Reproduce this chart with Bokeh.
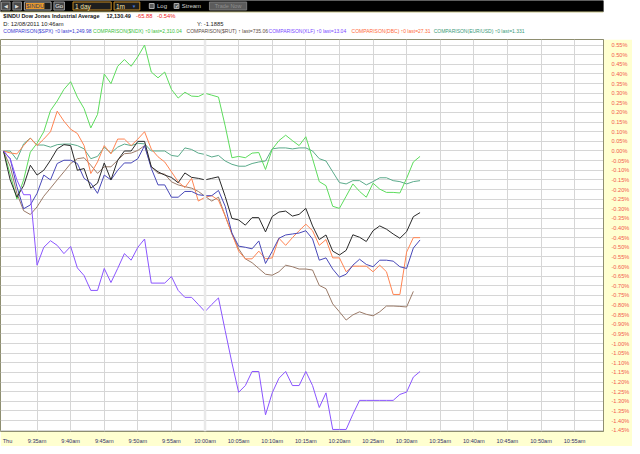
from bokeh.core.properties import value
from bokeh.embed import file_html
from bokeh.layouts import column
from bokeh.models import FixedTicker, PrintfTickFormatter, Range1d, Span
from bokeh.plotting import figure
from bokeh.resources import INLINE

FONT = value("Liberation Sans")

# minutes after 9:30am, one point per minute
minutes = list(range(63))

indu = [0, -0.15, -0.24, -0.18, -0.074, -0.125, -0.10, -0.048, 0.011, 0.033,
        0.028, -0.10, -0.091, -0.193, -0.167, -0.062, -0.15, -0.048, 0.0, 0.0,
        0.05, 0.05, -0.082, -0.108, -0.125, -0.137, -0.165, -0.114, -0.137, -0.142,
        -0.15, -0.142, -0.134, -0.236, -0.35, -0.358, -0.385, -0.346, -0.346, -0.42,
        -0.34, -0.317, -0.312, -0.338, -0.329, -0.298, -0.389, -0.46, -0.436, -0.52,
        -0.54, -0.516, -0.435, -0.448, -0.47, -0.414, -0.389, -0.406, -0.431, -0.453,
        -0.419, -0.341, -0.32]
spx = [0, -0.04, -0.185, -0.30, -0.28, -0.22, -0.125, -0.15, -0.065, -0.048,
       -0.048, -0.065, -0.142, -0.167, -0.22, -0.125, -0.15, -0.10, -0.062, -0.062,
       -0.04, 0.028, -0.09, -0.176, -0.176, -0.24, -0.24, -0.21, -0.21, -0.227,
       -0.232, -0.232, -0.205, -0.287, -0.426, -0.494, -0.50, -0.508, -0.467, -0.584,
       -0.521, -0.453, -0.436, -0.431, -0.426, -0.414, -0.457, -0.567, -0.555, -0.613,
       -0.655, -0.64, -0.593, -0.562, -0.589, -0.601, -0.567, -0.567, -0.572, -0.601,
       -0.61, -0.504, -0.462]
ndx = [0, -0.12, -0.25, -0.15, -0.006, 0.04, 0.10, 0.21, 0.26, 0.32,
       0.36, 0.28, 0.22, 0.12, 0.19, 0.40, 0.35, 0.44, 0.475, 0.44,
       0.49, 0.55, 0.41, 0.38, 0.41, 0.32, 0.275, 0.305, 0.285, 0.283,
       0.30, 0.29, 0.28, 0.13, -0.035, -0.028, -0.035, -0.011, -0.008, -0.096,
       0.009, 0.054, 0.082, 0.054, 0.028, 0.074, -0.04, -0.159, -0.18, -0.287,
       -0.298, -0.235, -0.171, -0.21, -0.24, -0.167, -0.198, -0.215, -0.215, -0.218,
       -0.142, -0.057, -0.028]
rut = [0, -0.08, -0.22, -0.31, -0.33, -0.29, -0.235, -0.193, -0.15, -0.108,
       -0.065, -0.04, -0.035, -0.074, -0.116, -0.082, -0.082, -0.048, -0.014, -0.011,
       0.003, 0.028, -0.082, -0.116, -0.12, -0.16, -0.176, -0.185, -0.193, -0.21,
       -0.235, -0.26, -0.24, -0.337, -0.43, -0.508, -0.56, -0.58, -0.61, -0.64,
       -0.645, -0.627, -0.593, -0.601, -0.613, -0.613, -0.618, -0.698, -0.715, -0.794,
       -0.835, -0.878, -0.851, -0.835, -0.848, -0.856, -0.835, -0.805, -0.805, -0.807,
       -0.81, -0.729]
xlf = [0, -0.04, -0.15, -0.227, -0.227, -0.593, -0.50, -0.466, -0.49, -0.533,
       -0.496, -0.607, -0.647, -0.724, -0.724, -0.61, -0.683, -0.61, -0.533, -0.567,
       -0.50, -0.457, -0.686, -0.686, -0.686, -0.652, -0.724, -0.76, -0.76, -0.797,
       -0.834, -0.797, -0.763, -0.933, -1.10, -1.253, -1.218, -1.145, -1.145, -1.37,
       -1.256, -1.18, -1.145, -1.218, -1.218, -1.145, -1.218, -1.332, -1.256, -1.446,
       -1.446, -1.446, -1.367, -1.295, -1.295, -1.295, -1.295, -1.295, -1.295, -1.264,
       -1.252, -1.174, -1.145]
dbc = [0, -0.01, -0.015, 0.028, 0.067, 0.028, 0.062, 0.10, 0.207, 0.155,
       0.113, 0.091, 0.028, -0.117, -0.057, 0.028, -0.015, 0.062, 0.062, 0.028,
       0.062, 0.10, 0.01, -0.03, -0.057, -0.108, -0.16, -0.19, -0.142, -0.26,
       -0.24, -0.232, -0.256, -0.337, -0.43, -0.52, -0.56, -0.56, -0.52, -0.56,
       -0.555, -0.453, -0.49, -0.45, -0.414, -0.38, -0.414, -0.49, -0.46, -0.555,
       -0.555, -0.627, -0.598, -0.598, -0.598, -0.627, -0.593, -0.627, -0.745, -0.745,
       -0.525, -0.45, -0.45]
eurusd = [0, 0, -0.045, 0.037, 0.067, 0.031, 0.031, 0.02, 0.033, 0.036,
          0.036, 0.028, 0.011, -0.04, -0.028, 0.02, -0.011, 0.02, 0.036, 0.028,
          0.04, 0.037, 0.0, 0.0, 0.0, -0.023, -0.028, 0.016, 0.008, -0.011,
          -0.018, -0.031, -0.023, -0.052, -0.069, -0.079, -0.079, -0.065, -0.057, -0.052,
          0.011, 0.016, 0.016, 0.011, 0.016, 0.016, 0.0, -0.04, -0.052, -0.108,
          -0.164, -0.171, -0.154, -0.154, -0.176, -0.159, -0.139, -0.139, -0.154, -0.159,
          -0.171, -0.159, -0.154]

time_ticks = [0.6, 5, 10, 15, 20, 25, 30, 35, 40, 45, 50, 55, 60, 65, 70, 75, 80, 85]
time_labels = ["Thu", "9:35am", "9:40am", "9:45am", "9:50am", "9:55am", "10:00am",
               "10:05am", "10:10am", "10:15am", "10:20am", "10:25am", "10:30am",
               "10:35am", "10:40am", "10:45am", "10:50am", "10:55am"]
pct_ticks = [round(i * 0.05, 2) for i in range(-29, 12)]

series = [
    (eurusd, "#5aaa8a"),
    (ndx, "#5ddc5d"),
    (rut, "#9a7a68"),
    (dbc, "#ff8452"),
    (spx, "#4848b8"),
    (indu, "#2a2a2a"),
    (xlf, "#8a55ff"),
]

study_labels = ["COMPARISON($SPX) ↑0 last=1,249.98", "COMPARISON($NDX) ↑0 last=2,310.04",
                "COMPARISON($RUT) ↑ last=735.06", "COMPARISON(XLF) ↑0 last=13.04",
                "COMPARISON(DBC) ↑0 last=27.31", "COMPARISON(EUR/USD) ↑0 last=1.331"]
study_colors = ["#3a3ad0", "#3cc03c", "#5a4a42", "#7a48ff", "#ff6a3a", "#3a9a7a"]

# ---- header strip (toolbar + study labels)
head = figure(width=632, height=39, x_range=Range1d(0, 632), y_range=Range1d(39, 0),
              min_border=0, toolbar_location=None, output_backend="svg",
              x_axis_type=None, y_axis_type=None, outline_line_color=None,
              background_fill_color="white", border_fill_color="white")
head.quad(left=0, right=632, top=0, bottom=11, color="black")
head.segment(x0=0, y0=11.5, x1=632, y1=11.5, line_color="#c8c48a", line_width=1)
head.quad(left=[1, 13], right=[10, 22], top=1.5, bottom=9.5,
          fill_color="#4a4a4a", line_color="#8a8a8a")
head.text(x=[5.5, 17.5], y=5.7, text=["◀", "▶"], text_font_size="5px",
          text_align="center", text_baseline="middle", text_color="#dddddd")
head.quad(left=25, right=53, top=1.5, bottom=9.5, fill_color="#1c1c1c", line_color="#aaaaaa")
head.quad(left=26.5, right=46, top=2.5, bottom=8.5, fill_color="#e89a2c", line_color=None)
head.text(x=27, y=5.7, text=["$INDU"], text_font=FONT, text_font_size="6px",
          text_baseline="middle", text_color="#3a3a5a")
head.quad(left=56, right=67, top=1.5, bottom=9.5, fill_color="#444444", line_color="#999999")
head.text(x=61.5, y=5.7, text=["Go"], text_font=FONT, text_font_size="6px",
          text_align="center", text_baseline="middle", text_color="#eeeeee")
head.quad(left=[76, 119], right=[116, 146], top=1.5, bottom=9.5,
          fill_color="#1e1e1e", line_color="#c68a22")
head.text(x=[78, 121], y=5.7, text=["1 day", "1m"], text_font=FONT, text_font_size="6.5px",
          text_baseline="middle", text_color="#f4e6a8")
head.text(x=140, y=5.7, text=["▼"], text_font_size="4.5px",
          text_align="center", text_baseline="middle", text_color="#4a7ad8")
head.quad(left=[156, 182], right=[161, 187], top=3, bottom=8,
          fill_color="#5a5a5a", line_color="#aaaaaa")
head.text(x=184.5, y=5.6, text=["✓"], text_font_size="5px",
          text_align="center", text_baseline="middle", text_color="white")
head.text(x=[164, 190], y=5.7, text=["Log", "Stream"], text_font=FONT, text_font_size="6px",
          text_baseline="middle", text_color="#d0d0d0")
head.quad(left=219, right=258, top=1.5, bottom=9.5, fill_color="#5c5c5c", line_color="#7a7a7a")
head.text(x=238.5, y=5.7, text=["Trade Now"], text_font=FONT, text_font_size="5.5px",
          text_align="center", text_baseline="middle", text_color="#8e8e8e")

head.text(x=[3, 111], y=15.5, text=["$INDU Dow Jones Industrial Average", "12,130.49"],
          text_font=FONT, text_font_size="5.5px", text_font_style="bold",
          text_baseline="middle", text_color="#111111")
head.text(x=[142, 164], y=15.5, text=["-65.88", "-0.54%"], text_font=FONT,
          text_font_size="5.8px", text_baseline="middle", text_color="#ee2222")
head.text(x=[3, 206], y=23, text=["D: 12/08/2011  10:46am", "Y: -1.1885"], text_font=FONT,
          text_font_size="5.8px", text_baseline="middle", text_color="#222222")
head.text(x=[3, 97, 195, 281, 368, 454], y=30.5, text=study_labels,
          text_color=study_colors, text_font=FONT, text_font_size="5px",
          text_baseline="middle")

# ---- main chart
p = figure(width=632, height=407, x_range=Range1d(-0.44, 89.3), y_range=Range1d(-1.4566, 0.579),
           y_axis_location="right", toolbar_location=None, output_backend="svg",
           min_border_left=0, min_border_top=0, min_border_right=22, min_border_bottom=8,
           background_fill_color="white", border_fill_color="#ffffd0",
           outline_line_color="#8e8e70")

p.xgrid.ticker = FixedTicker(ticks=[t for t in time_ticks[1:] if t != 30])
p.ygrid.ticker = FixedTicker(ticks=pct_ticks)
p.grid.grid_line_color = "#d6d6d6"
p.grid.grid_line_width = 1
p.add_layout(Span(location=30, dimension="height", line_color="#e9e9e9", line_width=2.5))

for vals, col in series:
    p.line(minutes[:len(vals)], vals, line_color=col, line_width=1)

p.xaxis.ticker = FixedTicker(ticks=time_ticks)
p.xaxis.major_label_overrides = dict(zip(time_ticks, time_labels))
p.xaxis.axis_line_color = None
p.xaxis.major_tick_line_color = None
p.xaxis.minor_tick_line_color = None
p.xaxis.major_label_standoff = 0
p.xaxis.major_label_text_font = "Liberation Sans"
p.xaxis.major_label_text_font_size = "5.6px"
p.xaxis.major_label_text_color = "#34346a"

p.yaxis.ticker = FixedTicker(ticks=pct_ticks)
p.yaxis.formatter = PrintfTickFormatter(format="%.2f%%")
p.yaxis.axis_line_color = "#8e8e70"
p.yaxis.major_tick_line_color = None
p.yaxis.minor_tick_line_color = None
p.yaxis.major_label_standoff = 2
p.yaxis.major_label_text_font = "Liberation Sans"
p.yaxis.major_label_text_font_size = "5.6px"
p.yaxis.major_label_text_color = "#f25a4e"

lay = column(head, p, spacing=0)
open("out.html", "w").write(file_html(lay, INLINE))
